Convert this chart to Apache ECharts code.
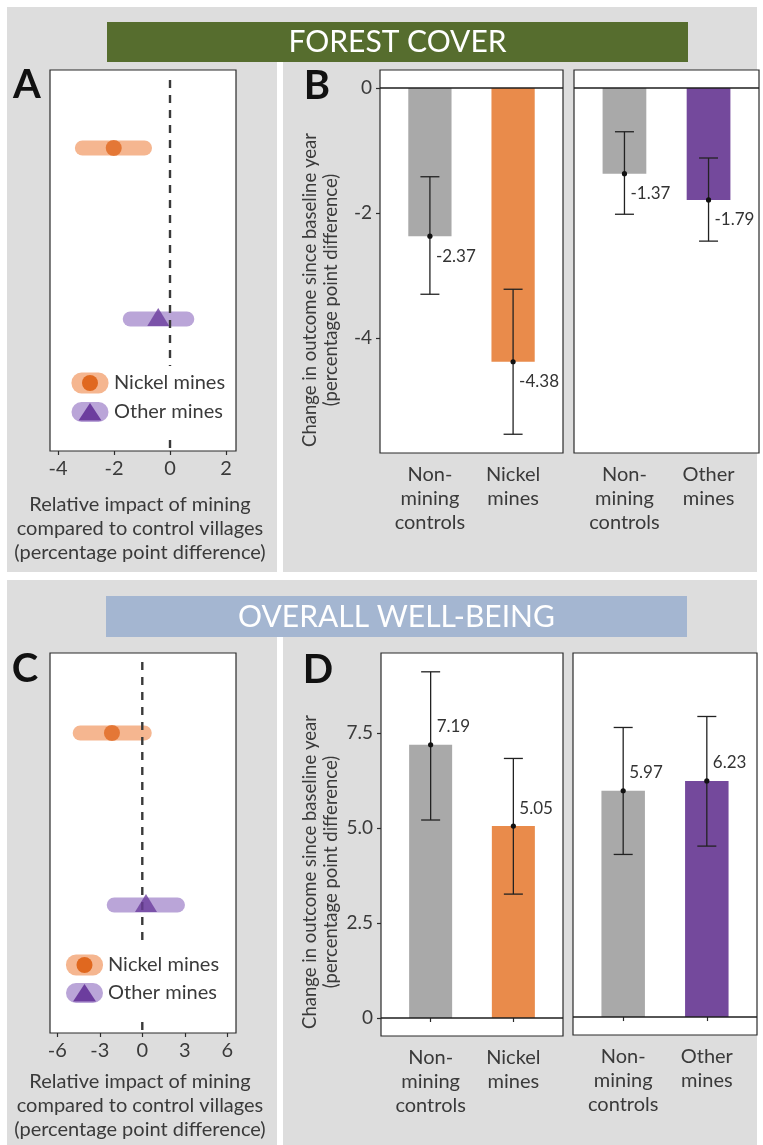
<!DOCTYPE html>
<html>
<head>
<meta charset="utf-8">
<script src="https://cdn.jsdelivr.net/npm/echarts@6/dist/echarts.min.js"></script>
<style>
  html, body { margin: 0; padding: 0; background: #ffffff; }
  #chart { width: 763px; height: 1145px; }
</style>
</head>
<body>
<div id="chart"></div>
<script>
// ---- Data ---------------------------------------------------------------
// Bar panels: group labels
const nickelGroups = ['Non-\nmining\ncontrols', 'Nickel\nmines'];
const otherGroups = ['Non-\nmining\ncontrols', 'Other\nmines'];

// Forest cover: change since baseline year (percentage points) with CI
const forestNickelMean = [-2.37, -4.38];
const forestNickelLow = [-3.30, -5.54];
const forestNickelHigh = [-1.42, -3.22];
const forestOtherMean = [-1.37, -1.79];
const forestOtherLow = [-2.02, -2.45];
const forestOtherHigh = [-0.70, -1.12];

// Overall well-being: change since baseline year with CI
const wellNickelMean = [7.19, 5.05];
const wellNickelLow = [5.21, 3.26];
const wellNickelHigh = [9.11, 6.83];
const wellOtherMean = [5.97, 6.23];
const wellOtherLow = [4.29, 4.51];
const wellOtherHigh = [7.64, 7.93];

// Relative impact of mining vs control villages: [Nickel mines, Other mines]
const impactGroups = ['Nickel mines', 'Other mines'];
const forestImpact = [-2.01, -0.42];
const forestImpactLow = [-3.13, -1.42];
const forestImpactHigh = [-0.91, 0.60];
const wellImpact = [-2.14, 0.26];
const wellImpactLow = [-4.38, -1.98];
const wellImpactHigh = [0.14, 2.48];

// Tick labels
const forestImpactTicks = [-4, -2, 0, 2];
const wellImpactTicks = [-6, -3, 0, 3, 6];
const forestChangeTicks = [-4, -2, 0];
const wellChangeTicks = [0, 2.5, 5, 7.5];

// ---- Styling ------------------------------------------------------------
const FONT = 'Lato, "Open Sans", sans-serif';
const TEXT = '#3a3a3a';
const PANEL_BG = '#dddddd';
const GREY_BAR = '#a9a9a9';
const ORANGE_BAR = '#e98b4b';
const PURPLE_BAR = '#74499c';
const ORANGE_LIGHT = '#f5b690';
const ORANGE_DARK = '#e0681f';
const PURPLE_LIGHT = '#baa5d8';
const PURPLE_DARK = '#6c3d9e';
const FRAME = '#2b2b2b';

// axis extents (include the panel padding around the data)
const A_X = [-4.286, 2.357], A_Y = [0.228, 2.456];
const C_X = [-6.51, 6.61], C_Y = [0.256, 2.465];
const B_Y = [-5.84, 0.288];
const D_Y = [-0.474, 9.605];
const CAT_X = [0.4, 2.6];
const BAR_HALF = 0.26;

const grids = [
  { left: 50, top: 70, width: 186, height: 381 },   // A
  { left: 380, top: 70, width: 183, height: 383 },  // B left
  { left: 574, top: 70, width: 185, height: 383 },  // B right
  { left: 50, top: 653, width: 186, height: 380 },  // C
  { left: 381, top: 653, width: 182, height: 383 }, // D left
  { left: 573, top: 653, width: 184, height: 382 }  // D right
].map(g => Object.assign({
  show: true, backgroundColor: '#ffffff', borderColor: FRAME, borderWidth: 1.2
}, g));

function impactXAxis(gridIndex, range, ticks) {
  return {
    type: 'value', gridIndex, min: range[0], max: range[1],
    axisLine: { show: false }, splitLine: { show: false },
    axisTick: { show: true, customValues: ticks, length: 4, lineStyle: { color: FRAME, width: 1.2 } },
    axisLabel: { customValues: ticks, margin: 8, fontSize: 20, fontFamily: FONT, color: TEXT }
  };
}
function hiddenAxis(gridIndex, range) {
  return { type: 'value', gridIndex, min: range[0], max: range[1], show: false, splitLine: { show: false } };
}
function groupXAxis(gridIndex, groups) {
  return {
    type: 'value', gridIndex, min: CAT_X[0], max: CAT_X[1],
    axisLine: { show: false }, splitLine: { show: false },
    axisTick: { show: true, customValues: [1, 2], length: 4, lineStyle: { color: FRAME, width: 1.2 } },
    axisLabel: {
      customValues: [1, 2], formatter: v => groups[Math.round(v) - 1],
      margin: 10, fontSize: 20, lineHeight: 24, fontFamily: FONT, color: TEXT
    }
  };
}
function changeYAxis(gridIndex, range, ticks, showLabels, fmt) {
  return {
    type: 'value', gridIndex, min: range[0], max: range[1],
    axisLine: { show: false }, splitLine: { show: false },
    axisTick: { show: showLabels, customValues: ticks, length: 4, lineStyle: { color: FRAME, width: 1.2 } },
    axisLabel: {
      show: showLabels, customValues: ticks, margin: 8, fontSize: 19,
      fontFamily: FONT, color: TEXT, formatter: fmt
    }
  };
}

// ---- Series builders ----------------------------------------------------
function impactSeries(idx, est, low, high, yRange) {
  const rows = est.map((_, i) => 2 - i);
  const light = [ORANGE_LIGHT, PURPLE_LIGHT];
  const dark = [ORANGE_DARK, PURPLE_DARK];
  return [
    { // confidence intervals as thick rounded bands
      type: 'custom', xAxisIndex: idx, yAxisIndex: idx, z: 2,
      data: est.map((_, i) => [low[i], high[i], rows[i], i]),
      encode: { x: [0, 1], y: 2 },
      renderItem(params, api) {
        const a = api.coord([api.value(0), api.value(2)]);
        const b = api.coord([api.value(1), api.value(2)]);
        return {
          type: 'line', shape: { x1: a[0], y1: a[1], x2: b[0], y2: b[1] },
          style: { stroke: light[api.value(3)], lineWidth: 15, lineCap: 'round' }
        };
      }
    },
    { // zero reference line
      type: 'custom', xAxisIndex: idx, yAxisIndex: idx, z: 3, silent: true,
      data: [[0, yRange[0]]],
      renderItem(params, api) {
        const a = api.coord([0, yRange[0]]);
        const b = api.coord([0, yRange[1]]);
        return {
          type: 'line', shape: { x1: a[0], y1: a[1] - 3, x2: b[0], y2: b[1] + 3 },
          style: { stroke: '#3a3a3a', lineWidth: 2.4, lineDash: [8, 7] }
        };
      }
    },
    { // point estimates
      type: 'scatter', xAxisIndex: idx, yAxisIndex: idx, z: 4,
      data: est.map((v, i) => ({
        value: [v, rows[i]],
        symbol: i === 0 ? 'circle' : 'triangle',
        symbolSize: i === 0 ? 16 : [22, 18],
        symbolOffset: i === 0 ? [0, 0] : [0, -2],
        itemStyle: { color: dark[i] }
      }))
    }
  ];
}

function changeSeries(idx, mean, low, high, colors) {
  return [
    {
      type: 'custom', xAxisIndex: idx, yAxisIndex: idx, z: 2,
      data: mean.map((v, i) => [i + 1, v, i]),
      encode: { x: 0, y: 1 },
      renderItem(params, api) {
        const x = api.value(0), v = api.value(1);
        const p1 = api.coord([x - BAR_HALF, v]);
        const p2 = api.coord([x + BAR_HALF, 0]);
        return {
          type: 'rect',
          shape: {
            x: Math.min(p1[0], p2[0]), y: Math.min(p1[1], p2[1]),
            width: Math.abs(p2[0] - p1[0]), height: Math.abs(p2[1] - p1[1])
          },
          style: { fill: colors[api.value(2)] }
        };
      }
    },
    { // baseline at zero
      type: 'custom', xAxisIndex: idx, yAxisIndex: idx, z: 3, silent: true,
      data: [[CAT_X[0], 0]],
      renderItem(params, api) {
        const a = api.coord([CAT_X[0], 0]);
        const b = api.coord([CAT_X[1], 0]);
        return {
          type: 'line', shape: { x1: a[0], y1: a[1], x2: b[0], y2: b[1] },
          style: { stroke: '#1e1e1e', lineWidth: 1.6 }
        };
      }
    },
    { // error bars, point and value label
      type: 'custom', xAxisIndex: idx, yAxisIndex: idx, z: 4,
      data: mean.map((v, i) => [i + 1, low[i], high[i], v]),
      encode: { x: 0, y: [1, 2, 3] },
      renderItem(params, api) {
        const x = api.value(0), v = api.value(3);
        const lo = api.coord([x, api.value(1)]);
        const hi = api.coord([x, api.value(2)]);
        const pt = api.coord([x, v]);
        const cap = 9.5;
        const st = { stroke: '#222222', lineWidth: 1.3 };
        return {
          type: 'group',
          children: [
            { type: 'line', shape: { x1: lo[0], y1: lo[1], x2: hi[0], y2: hi[1] }, style: st },
            { type: 'line', shape: { x1: lo[0] - cap, y1: lo[1], x2: lo[0] + cap, y2: lo[1] }, style: st },
            { type: 'line', shape: { x1: hi[0] - cap, y1: hi[1], x2: hi[0] + cap, y2: hi[1] }, style: st },
            { type: 'circle', shape: { cx: pt[0], cy: pt[1], r: 2.6 }, style: { fill: '#111111' } },
            {
              type: 'text', x: pt[0] + 6, y: pt[1] + (v < 0 ? 20 : -18),
              style: {
                text: v.toFixed(2), fill: '#333333', fontSize: 17, fontFamily: FONT,
                align: 'left', verticalAlign: 'middle'
              }
            }
          ]
        };
      }
    }
  ];
}

// ---- Decorations: panels, headers, letters, titles, legends -------------
function text(x, y, str, o) {
  o = o || {};
  return {
    type: 'text', x, y, z: o.z || 50, rotation: o.rotation || 0,
    style: {
      text: str, fill: o.fill || TEXT, fontSize: o.size || 18, fontFamily: FONT,
      fontWeight: o.weight || 'normal',
      align: o.align || 'center', verticalAlign: 'middle',
      textAlign: o.align || 'center', textVerticalAlign: 'middle'
    }
  };
}
function rect(x, y, w, h, fill, z, r) {
  return { type: 'rect', z: z, shape: { x, y, width: w, height: h, r: r || 0 }, style: { fill } };
}
function legend(keyX, textX, y1, y2, boxTop, boxBottom) {
  return [
    rect(keyX - 18, boxTop, 160, boxBottom - boxTop, '#ffffff', 40),
    rect(keyX - 18.5, y1 - 10.5, 37, 21, ORANGE_LIGHT, 41, 10),
    { type: 'circle', z: 42, shape: { cx: keyX, cy: y1, r: 8 }, style: { fill: ORANGE_DARK } },
    text(textX, y1, impactGroups[0], { align: 'left', size: 20, z: 42 }),
    rect(keyX - 18.5, y2 - 10, 37, 20, PURPLE_LIGHT, 41, 10),
    { type: 'polygon', z: 42, shape: { points: [[keyX - 11.5, y2 + 8.5], [keyX + 11.5, y2 + 8.5], [keyX, y2 - 9]] }, style: { fill: PURPLE_DARK } },
    text(textX, y2, impactGroups[1], { align: 'left', size: 20, z: 42 })
  ];
}

const impactTitle = ['Relative impact of mining', 'compared to control villages', '(percentage point difference)'];
const changeTitle = ['Change in outcome since baseline year', '(percentage point difference)'];

const decor = [
  // grey panels and white gutters
  rect(7, 7, 750, 565, PANEL_BG, -20),
  rect(7, 580, 750, 565, PANEL_BG, -20),
  rect(277, 62, 6, 510, '#ffffff', -19),
  rect(277, 637, 6, 508, '#ffffff', -19),
  // section headers
  rect(107, 22, 581, 40, '#566d2e', 30),
  text(397.5, 42.5, 'FOREST COVER', { fill: '#ffffff', size: 30, z: 31 }),
  rect(106, 596, 581, 41, '#a4b6d1', 30),
  text(396.5, 617, 'OVERALL WELL-BEING', { fill: '#ffffff', size: 30, z: 31 }),
  // panel letters
  text(27, 85, 'A', { fill: '#111111', size: 40, weight: 'bold', z: 31 }),
  text(317, 86, 'B', { fill: '#111111', size: 40, weight: 'bold', z: 31 }),
  text(25, 669, 'C', { fill: '#111111', size: 40, weight: 'bold', z: 31 }),
  text(318, 670, 'D', { fill: '#111111', size: 40, weight: 'bold', z: 31 })
];
impactTitle.forEach((s, i) => decor.push(text(140, 505 + i * 24, s, { size: 20 })));
impactTitle.forEach((s, i) => decor.push(text(140, 1082 + i * 24, s, { size: 20 })));
changeTitle.forEach((s, i) => decor.push(text(310 + i * 21, 290, s, { size: 18.5, rotation: Math.PI / 2 })));
changeTitle.forEach((s, i) => decor.push(text(310 + i * 21, 872, s, { size: 18.5, rotation: Math.PI / 2 })));
decor.push(...legend(90, 114, 383, 412, 366, 436));
decor.push(...legend(84.5, 108, 965, 993, 946, 1020));

// ---- Chart --------------------------------------------------------------
const chart = echarts.init(document.getElementById('chart'), null, { renderer: 'canvas' });
chart.setOption({
  animation: false,
  backgroundColor: '#ffffff',
  grid: grids,
  xAxis: [
    impactXAxis(0, A_X, forestImpactTicks),
    groupXAxis(1, nickelGroups),
    groupXAxis(2, otherGroups),
    impactXAxis(3, C_X, wellImpactTicks),
    groupXAxis(4, nickelGroups),
    groupXAxis(5, otherGroups)
  ],
  yAxis: [
    hiddenAxis(0, A_Y),
    changeYAxis(1, B_Y, forestChangeTicks, true, v => String(v)),
    changeYAxis(2, B_Y, forestChangeTicks, false),
    hiddenAxis(3, C_Y),
    changeYAxis(4, D_Y, wellChangeTicks, true, v => (v === 0 ? '0' : v.toFixed(1))),
    changeYAxis(5, D_Y, wellChangeTicks, false)
  ],
  series: [
    ...impactSeries(0, forestImpact, forestImpactLow, forestImpactHigh, A_Y),
    ...changeSeries(1, forestNickelMean, forestNickelLow, forestNickelHigh, [GREY_BAR, ORANGE_BAR]),
    ...changeSeries(2, forestOtherMean, forestOtherLow, forestOtherHigh, [GREY_BAR, PURPLE_BAR]),
    ...impactSeries(3, wellImpact, wellImpactLow, wellImpactHigh, C_Y),
    ...changeSeries(4, wellNickelMean, wellNickelLow, wellNickelHigh, [GREY_BAR, ORANGE_BAR]),
    ...changeSeries(5, wellOtherMean, wellOtherLow, wellOtherHigh, [GREY_BAR, PURPLE_BAR])
  ],
  graphic: { elements: decor }
});
</script>
</body>
</html>
